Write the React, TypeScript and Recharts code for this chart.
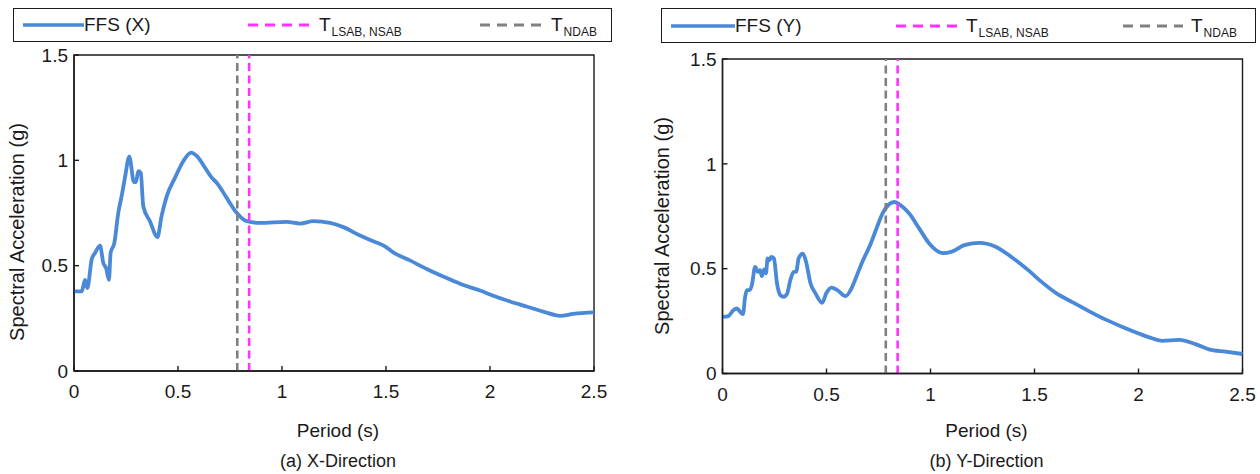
import React from 'react';
import {
  LineChart,
  Line,
  XAxis,
  YAxis,
  ReferenceLine,
  ReferenceArea,
} from 'recharts';

// FFS spectrum, X direction
const periodX = [
  0, 0.037, 0.053, 0.064, 0.085, 0.101, 0.125, 0.141, 0.154, 0.168, 0.176, 0.194, 0.213, 0.229, 0.245,
  0.266, 0.288, 0.298, 0.309, 0.321, 0.333, 0.365, 0.401, 0.421, 0.446, 0.486, 0.526, 0.563, 0.59, 0.63,
  0.662, 0.686, 0.734, 0.782, 0.83, 0.894, 1.022, 1.087, 1.151, 1.231, 1.295, 1.375, 1.439, 1.495, 1.535,
  1.615, 1.696, 1.792, 1.872, 1.952, 2.016, 2.096, 2.176, 2.256, 2.337, 2.4, 2.5,
];
const saX = [
  0.378, 0.378, 0.433, 0.394, 0.529, 0.56, 0.595, 0.513, 0.489, 0.433, 0.56, 0.608, 0.751, 0.83, 0.918,
  1.018, 0.897, 0.897, 0.949, 0.941, 0.782, 0.711, 0.636, 0.735, 0.83, 0.918, 0.997, 1.037, 1.021, 0.965,
  0.918, 0.894, 0.822, 0.751, 0.711, 0.703, 0.708, 0.7, 0.711, 0.703, 0.683, 0.643, 0.616, 0.592, 0.563,
  0.525, 0.484, 0.441, 0.408, 0.382, 0.357, 0.33, 0.306, 0.282, 0.262, 0.271, 0.278,
];

// FFS spectrum, Y direction
const periodY = [
  0, 0.028, 0.052, 0.069, 0.085, 0.098, 0.109, 0.117, 0.13, 0.141, 0.157, 0.17, 0.181, 0.189, 0.2,
  0.209, 0.217, 0.226, 0.234, 0.247, 0.262, 0.278, 0.294, 0.31, 0.326, 0.342, 0.354, 0.366, 0.386, 0.402,
  0.423, 0.447, 0.479, 0.5, 0.524, 0.552, 0.592, 0.616, 0.64, 0.672, 0.713, 0.737, 0.769, 0.801, 0.825,
  0.857, 0.898, 0.946, 0.994, 1.027, 1.062, 1.099, 1.163, 1.236, 1.308, 1.389, 1.47, 1.534, 1.606, 1.679,
  1.759, 1.84, 1.92, 2.001, 2.065, 2.114, 2.194, 2.274, 2.339, 2.419, 2.5,
];
const saY = [
  0.27, 0.274, 0.302, 0.31, 0.294, 0.283, 0.366, 0.398, 0.398, 0.421, 0.509, 0.485, 0.493, 0.464, 0.496,
  0.477, 0.549, 0.54, 0.556, 0.549, 0.43, 0.374, 0.366, 0.379, 0.445, 0.485, 0.485, 0.549, 0.572, 0.532,
  0.43, 0.382, 0.337, 0.385, 0.41, 0.398, 0.369, 0.398, 0.453, 0.532, 0.62, 0.683, 0.763, 0.807, 0.818,
  0.802, 0.763, 0.691, 0.62, 0.588, 0.574, 0.58, 0.612, 0.623, 0.607, 0.556, 0.493, 0.437, 0.382, 0.342,
  0.299, 0.258, 0.223, 0.191, 0.168, 0.156, 0.16, 0.14, 0.115, 0.104, 0.093,
];

const periodTicks = [0, 0.5, 1, 1.5, 2, 2.5];
const saTicks = [0, 0.5, 1, 1.5];

// fundamental periods (s)
const T_NDAB = 0.785;
const T_LSAB_NSAB = 0.842;

const FONT = '"Liberation Sans", Arial, Helvetica, sans-serif';
const INK = '#1a1a1a';
const BLUE = '#4a88d8';
const MAGENTA = '#ff33ff';
const GREY = '#808080';

const W = 630;
const H = 474;

type Box = { left: number; top: number; right: number; bottom: number };

type PanelProps = {
  x: number;
  periods: number[];
  values: number[];
  series: string;
  caption: string;
  plot: Box;
  legend: { x: number; y: number; w: number; h: number; items: number[] };
  yTitle: { x: number; y: number };
};

const Swatch = ({ color, dashed, width }: { color: string; dashed?: boolean; width: number }) => (
  <svg width={width} height={8} style={{ display: 'block' }}>
    <line
      x1={0}
      y1={4}
      x2={width}
      y2={4}
      stroke={color}
      strokeWidth={dashed ? 3 : 3.5}
      strokeDasharray={dashed ? '10 7' : undefined}
    />
  </svg>
);

const Legend = ({ legend, series }: { legend: PanelProps['legend']; series: string }) => {
  const [s1, t1, s2, t2, s3, t3] = legend.items;
  const item = (left: number): React.CSSProperties => ({
    position: 'absolute',
    left,
    top: 0,
    height: '100%',
    display: 'flex',
    alignItems: 'center',
  });
  const sub: React.CSSProperties = { fontSize: 12, position: 'relative', top: 7, marginLeft: 1 };
  return (
    <div
      style={{
        position: 'absolute',
        left: legend.x,
        top: legend.y,
        width: legend.w,
        height: legend.h,
        border: `1.5px solid ${INK}`,
        boxSizing: 'border-box',
        fontFamily: FONT,
        fontSize: 19,
        color: INK,
      }}
    >
      <div style={item(s1)}><Swatch color={BLUE} width={t1 - s1} /></div>
      <div style={item(t1)}>{series}</div>
      <div style={item(s2)}><Swatch color={MAGENTA} dashed width={t2 - s2 - 8} /></div>
      <div style={item(t2)}>T<span style={sub}>LSAB, NSAB</span></div>
      <div style={item(s3)}><Swatch color={GREY} dashed width={t3 - s3 - 8} /></div>
      <div style={item(t3)}>T<span style={sub}>NDAB</span></div>
    </div>
  );
};

const Panel = ({ x, periods, values, series, caption, plot, legend, yTitle }: PanelProps) => {
  const rows = periods.map((t, i) => ({ t, sa: values[i] }));
  const axisStyle = { stroke: INK, strokeWidth: 1.4 };
  const tickStyle = { fill: INK, fontSize: 19, fontFamily: FONT };
  const midX = (plot.left + plot.right) / 2 + 4;
  const text: React.CSSProperties = {
    position: 'absolute',
    fontFamily: FONT,
    color: INK,
    whiteSpace: 'nowrap',
    transform: 'translate(-50%, -50%)',
  };

  return (
    <div style={{ position: 'absolute', left: x, top: 0, width: W, height: H }}>
      <LineChart
        width={W}
        height={H}
        data={rows}
        margin={{ top: plot.top, right: W - plot.right, bottom: H - plot.bottom - 30, left: plot.left - 50 }}
      >
        <XAxis
          dataKey="t"
          type="number"
          domain={[0, 2.5]}
          ticks={periodTicks}
          tickFormatter={(v) => String(v)}
          height={30}
          tickSize={-5}
          tickMargin={19}
          axisLine={axisStyle}
          tickLine={axisStyle}
          tick={tickStyle}
        />
        <YAxis
          type="number"
          domain={[0, 1.5]}
          ticks={saTicks}
          tickFormatter={(v) => String(v)}
          width={50}
          tickSize={-5}
          tickMargin={11}
          axisLine={axisStyle}
          tickLine={axisStyle}
          tick={tickStyle}
        />
        <ReferenceArea x1={0} x2={2.5} y1={0} y2={1.5} fill="none" stroke={INK} strokeWidth={1.4} />
        <Line
          dataKey="sa"
          type="monotone"
          stroke={BLUE}
          strokeWidth={3.8}
          strokeLinejoin="round"
          dot={false}
          isAnimationActive={false}
        />
        <ReferenceLine x={T_LSAB_NSAB} stroke={MAGENTA} strokeWidth={2.6} strokeDasharray="8 4.5" />
        <ReferenceLine x={T_NDAB} stroke={GREY} strokeWidth={2.6} strokeDasharray="8 4.5" />
      </LineChart>

      <Legend legend={legend} series={series} />

      <div style={{ ...text, left: yTitle.x, top: yTitle.y, fontSize: 20, transform: 'translate(-50%, -50%) rotate(-90deg)' }}>
        Spectral Acceleration (g)
      </div>
      <div style={{ ...text, left: midX, top: 431, fontSize: 19 }}>Period (s)</div>
      <div style={{ ...text, left: midX, top: 461, fontSize: 18 }}>{caption}</div>
    </div>
  );
};

export default function App() {
  return (
    <div style={{ position: 'absolute', left: 0, top: 0, width: 1260, height: 474, background: '#fff', overflow: 'hidden' }}>
      <Panel
        x={0}
        periods={periodX}
        values={saX}
        series="FFS (X)"
        caption="(a) X-Direction"
        plot={{ left: 74, top: 55, right: 594, bottom: 371 }}
        legend={{ x: 13, y: 8, w: 599, h: 34, items: [9, 70, 234, 305, 466, 537] }}
        yTitle={{ x: 17, y: 232 }}
      />
      <Panel
        x={630}
        periods={periodY}
        values={saY}
        series="FFS (Y)"
        caption="(b) Y-Direction"
        plot={{ left: 92.5, top: 59, right: 612.5, bottom: 373.5 }}
        legend={{ x: 31, y: 8, w: 595, h: 35, items: [9, 73, 234, 304, 461, 529] }}
        yTitle={{ x: 32, y: 226 }}
      />
    </div>
  );
}
